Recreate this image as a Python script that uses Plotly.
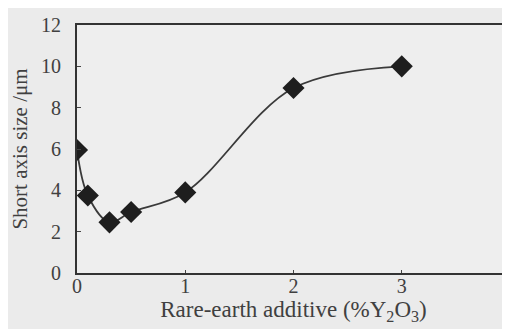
import plotly.graph_objects as go

additive = [0, 0.1, 0.3, 0.5, 1, 2, 3]
size_um = [5.95, 3.75, 2.45, 2.95, 3.9, 8.95, 10.0]
x_ticks = [0, 1, 2, 3, 4]
y_ticks = [0, 2, 4, 6, 8, 10, 12]

fig = go.Figure()
fig.add_trace(go.Scatter(
    x=additive, y=size_um, mode="lines+markers",
    line=dict(color="#3a3a3a", width=1.8, shape="spline", smoothing=1.0),
    marker=dict(symbol="diamond", size=17, color="#1e1e1e"),
    cliponaxis=True,
))

FAM = "Liberation Serif"
tfont = dict(family=FAM, size=20, color="#404040")
fig.update_layout(
    width=510, height=329,
    margin=dict(l=69, r=3, t=17, b=64),
    paper_bgcolor="#ebebeb", plot_bgcolor="#eeeeee",
    font=tfont, showlegend=False,
    xaxis=dict(range=[0, 4], tickvals=x_ticks, ticks="inside", ticklen=3,
               showgrid=False, zeroline=False, showline=True, mirror=True,
               linecolor="#333", linewidth=2, ticklabelstandoff=-6,
               ticklabeloverflow="allow",
               title=dict(text="Rare-earth additive (%Y<sub>2</sub>O<sub>3</sub>)",
                          standoff=2, font=dict(family=FAM, size=23, color="#404040")),
               tickfont=tfont),
    yaxis=dict(range=[0, 12], tickvals=y_ticks, ticks="inside", ticklen=4,
               showgrid=False, zeroline=False, showline=True, mirror=True,
               linecolor="#333", linewidth=2, ticklabelstandoff=10,
               ticklabeloverflow="allow",
               title=dict(text="Short axis size /μm", standoff=10,
                          font=dict(family=FAM, size=21, color="#404040")),
               tickfont=tfont),
)
fig.write_html("out.html")
